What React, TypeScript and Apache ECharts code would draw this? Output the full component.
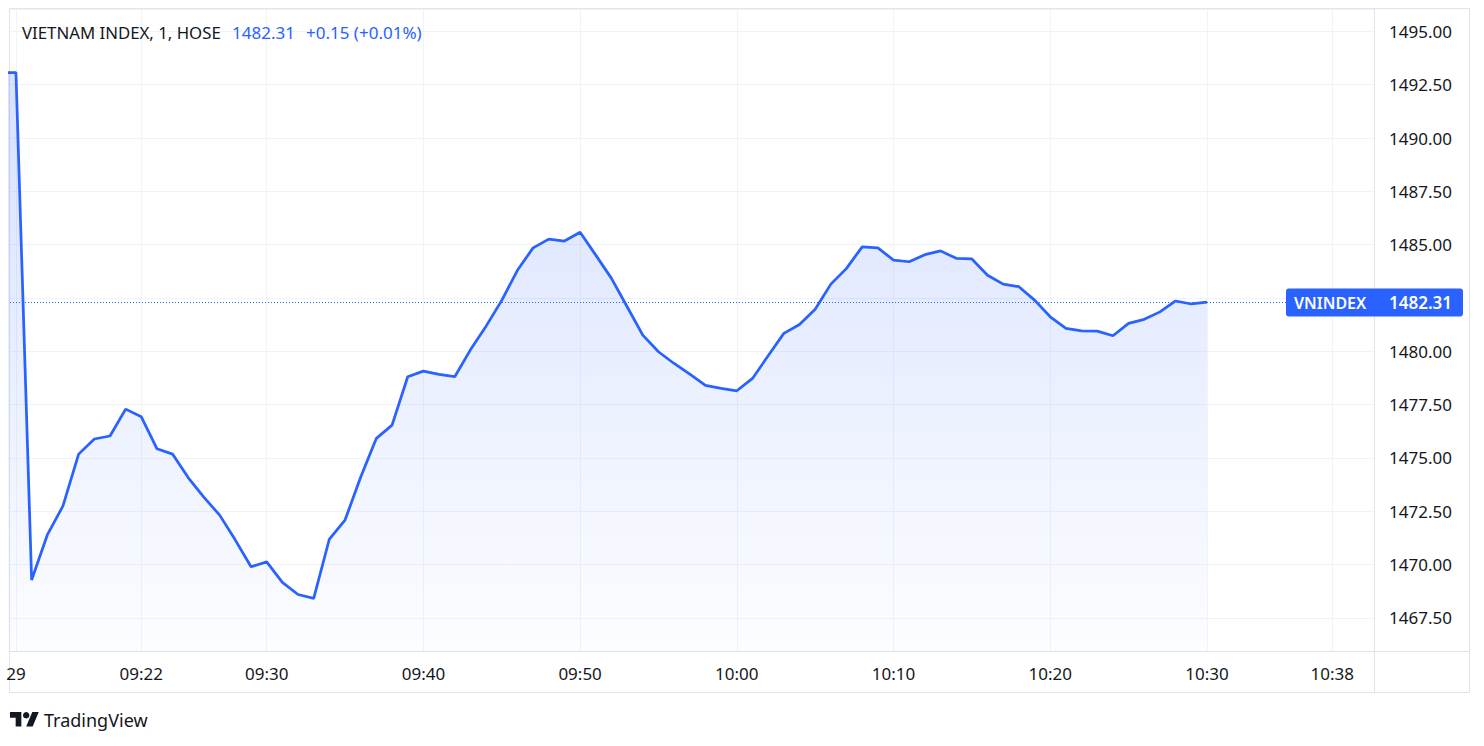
import React, { useEffect, useRef } from 'react';
import * as echarts from 'echarts';

const times = [
  '09:13', '09:14', '09:15', '09:16', '09:17', '09:18', '09:19', '09:20', '09:21', '09:22', '09:23',
  '09:24', '09:25', '09:26', '09:27', '09:28', '09:29', '09:30', '09:31', '09:32', '09:33',
  '09:34', '09:35', '09:36', '09:37', '09:38', '09:39', '09:40', '09:41', '09:42', '09:43',
  '09:44', '09:45', '09:46', '09:47', '09:48', '09:49', '09:50', '09:51', '09:52', '09:53',
  '09:54', '09:55', '09:56', '09:57', '09:58', '09:59', '10:00', '10:01', '10:02', '10:03',
  '10:04', '10:05', '10:06', '10:07', '10:08', '10:09', '10:10', '10:11', '10:12', '10:13',
  '10:14', '10:15', '10:16', '10:17', '10:18', '10:19', '10:20', '10:21', '10:22', '10:23',
  '10:24', '10:25', '10:26', '10:27', '10:28', '10:29', '10:30',
];

const values = [
  1493.07, 1493.07, 1469.28, 1471.39, 1472.75, 1475.18, 1475.89, 1476.03, 1477.29, 1476.93, 1475.43,
  1475.18, 1474.07, 1473.15, 1472.32, 1471.15, 1469.9, 1470.13, 1469.17, 1468.6, 1468.42,
  1471.2, 1472.09, 1474.11, 1475.92, 1476.54, 1478.81, 1479.07, 1478.92, 1478.81, 1480.07,
  1481.18, 1482.39, 1483.8, 1484.85, 1485.26, 1485.17, 1485.58, 1484.51, 1483.42, 1482.09,
  1480.76, 1479.98, 1479.43, 1478.93, 1478.4, 1478.26, 1478.15, 1478.73, 1479.79, 1480.84,
  1481.26, 1481.97, 1483.15, 1483.89, 1484.9, 1484.85, 1484.28, 1484.2, 1484.53, 1484.71,
  1484.36, 1484.33, 1483.57, 1483.15, 1483.03, 1482.4, 1481.62, 1481.08, 1480.96, 1480.95,
  1480.73, 1481.31, 1481.5, 1481.85, 1482.36, 1482.22, 1482.31,
];

const timeTickTimes = ['09:14', '09:22', '09:30', '09:40', '09:50', '10:00', '10:10', '10:20', '10:30', '10:38'];
const timeTickLabels = ['29', '09:22', '09:30', '09:40', '09:50', '10:00', '10:10', '10:20', '10:30', '10:38'];

const titleText = 'VIETNAM INDEX, 1, HOSE';
const lastValue = 1482.31;
const changeText = '+0.15 (+0.01%)';
const symbolName = 'VNINDEX';

const xRange = ['09:13.62', '10:40.66'];
const yMin = 1465.95;
const yMax = 1496.05;
const yStep = 2.5;

const toMin = (t: string) => {
  const [h, m] = t.split(':').map(Number);
  return h * 60 + m;
};

echarts.graphic.registerShape(
  'tvlogo',
  echarts.graphic.extendPath('M14 22H7V11H0V4h14v18zM28 22h-8l7.5-18h8L28 22z', {})
);

const FONT = '"Noto Sans", sans-serif';
const BLUE = '#2962ff';
const TEXT = '#131722';
const BORDER = '#e0e3eb';
const GRID = '#f0f3fa';

export default function App() {
  const ref = useRef<HTMLDivElement>(null);

  useEffect(() => {
    if (!ref.current) return;
    const chart = echarts.init(ref.current, null, { renderer: 'svg' });
    const data = times.map((t, i) => [toMin(t), values[i]]);
    const labelMap: Record<number, string> = {};
    timeTickTimes.forEach((t, i) => {
      labelMap[toMin(t)] = timeTickLabels[i];
    });
    const tickVals = timeTickTimes.map(toMin);

    chart.setOption({
      animation: false,
      textStyle: { fontFamily: FONT },
      grid: { left: 10, right: 110, top: 9, bottom: 95 },
      xAxis: {
        type: 'value',
        min: toMin(xRange[0]),
        max: toMin(xRange[1]),
        axisLine: { show: false },
        axisTick: { show: false, customValues: tickVals },
        axisLabel: {
          customValues: tickVals,
          formatter: (v: number) => labelMap[Math.round(v)] ?? '',
          color: TEXT,
          fontSize: 17,
          margin: 14,
          fontFamily: FONT,
        },
        splitLine: { show: true, lineStyle: { color: GRID, width: 1 } },
      },
      yAxis: {
        type: 'value',
        position: 'right',
        min: yMin,
        max: yMax,
        minInterval: yStep,
        maxInterval: yStep,
        splitNumber: 12,
        axisLine: { show: false },
        axisTick: { show: false },
        axisLabel: {
          showMinLabel: false,
          showMaxLabel: false,
          formatter: (v: number) => v.toFixed(2),
          color: TEXT,
          fontSize: 17,
          margin: 15,
          fontFamily: FONT,
        },
        splitLine: { show: true, lineStyle: { color: GRID, width: 1 } },
      },
      series: [
        {
          type: 'line',
          data,
          symbol: 'none',
          clip: true,
          lineStyle: { color: BLUE, width: 2.75 },
          areaStyle: {
            color: new echarts.graphic.LinearGradient(0, 0, 0, 1, [
              { offset: 0, color: 'rgba(41,98,255,0.27)' },
              { offset: 1, color: 'rgba(41,98,255,0.02)' },
            ]),
            origin: 'start',
          },
        },
      ],
    });

    const py = Math.round(chart.convertToPixel({ yAxisIndex: 0 }, lastValue) as number) + 0.5;

    chart.setOption({
      graphic: [
        {
          type: 'rect',
          shape: { x: 9.5, y: 8.5, width: 1460, height: 684 },
          style: { fill: 'none', stroke: BORDER, lineWidth: 1 },
          silent: true,
        },
        {
          type: 'line',
          shape: { x1: 1374.5, y1: 8.5, x2: 1374.5, y2: 692.5 },
          style: { stroke: BORDER, lineWidth: 1 },
          silent: true,
        },
        {
          type: 'line',
          shape: { x1: 9.5, y1: 651.5, x2: 1469.5, y2: 651.5 },
          style: { stroke: BORDER, lineWidth: 1 },
          silent: true,
        },
        {
          type: 'line',
          shape: { x1: 10, y1: py, x2: 1374, y2: py },
          style: { stroke: BLUE, lineWidth: 1, lineDash: [1, 2] },
          silent: true,
        },
        {
          type: 'text',
          x: 22,
          y: 32,
          style: { text: titleText, fill: TEXT, font: `16.8px ${FONT}`, textVerticalAlign: 'middle' },
        },
        {
          type: 'text',
          x: 232,
          y: 32,
          style: { text: lastValue.toFixed(2), fill: BLUE, font: `17px ${FONT}`, textVerticalAlign: 'middle' },
        },
        {
          type: 'text',
          x: 306,
          y: 32,
          style: { text: changeText, fill: BLUE, font: `17px ${FONT}`, textVerticalAlign: 'middle' },
        },
        {
          type: 'rect',
          shape: { x: 1286, y: py - 14, width: 177, height: 28, r: 3 },
          style: { fill: BLUE },
          z: 10,
        },
        {
          type: 'text',
          x: 1294,
          y: py,
          z: 11,
          style: {
            text: `{a|${symbolName}}{b|${lastValue.toFixed(2)}}`,
            textVerticalAlign: 'middle',
            rich: {
              a: { width: 95, fill: '#ffffff', font: `600 16px ${FONT}` },
              b: { fill: '#ffffff', font: `600 17px ${FONT}` },
            },
          },
        },
        {
          type: 'tvlogo',
          x: 10,
          y: 708.8,
          scaleX: 0.81,
          scaleY: 0.81,
          style: { fill: TEXT },
        },
        {
          type: 'circle',
          shape: { cx: 10 + 20 * 0.81, cy: 708.8 + 8 * 0.81, r: 4 * 0.81 },
          style: { fill: TEXT },
        },
        {
          type: 'text',
          x: 44,
          y: 720,
          style: { text: 'TradingView', fill: TEXT, font: `18px ${FONT}`, textVerticalAlign: 'middle' },
        },
      ],
    });

    return () => chart.dispose();
  }, []);

  return <div ref={ref} style={{ position: 'absolute', left: 0, top: 0, width: 1484, height: 746 }} />;
}
